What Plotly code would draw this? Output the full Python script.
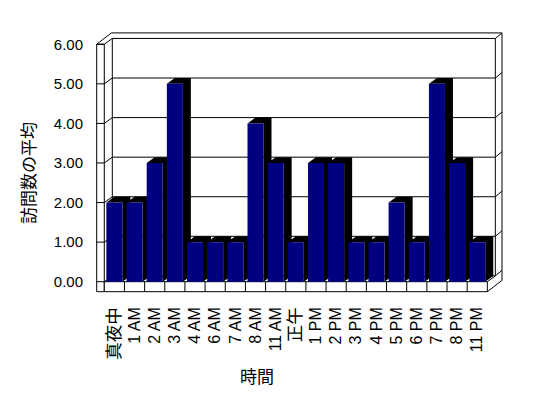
import plotly.graph_objects as go

# ---- data ----
categories = ["真夜中", "1 AM", "2 AM", "3 AM", "4 AM", "6 AM", "7 AM", "8 AM", "11 AM",
              "正午", "1 PM", "2 PM", "3 PM", "4 PM", "5 PM", "6 PM", "7 PM", "8 PM", "11 PM"]
values = [2, 2, 3, 5, 1, 1, 1, 4, 3, 1, 3, 3, 1, 1, 2, 1, 5, 3, 1]
y_ticks = [0, 1, 2, 3, 4, 5, 6]
y_tick_labels = [f"{v:.2f}" for v in y_ticks]
x_title = "時間"
y_title = "訪問数の平均"

# ---- styling / geometry (in axis units) ----
FONT = "Liberation Sans, Arial, Noto Sans CJK JP, sans-serif"
NAVY = "#000080"
W, H = 548, 398
OFF = 8                      # page body margin
PL, PT, PW, PH = 90, 25, 420, 275   # plot area in page pixels
ML, MT = PL - OFF, PT - OFF
MR, MB = W - ML - PW, H - MT - PH
n = len(categories)
HW = 0.397          # half bar width
DX, DY = 0.397, 0.147   # depth offset (x cat units, y value units)
TX, TY = 0.33, 0.14     # wall thickness offset
XW = -0.877             # outer left of left wall
YB = -0.2527            # floor bottom
XL, XR = -0.5, n - 0.5  # floor front edges
YMAX = y_ticks[-1]

xs = list(range(n))

def tick_text(c):
    if any(ord(ch) > 0x3000 for ch in c):
        return f'<span style="font-size:17.5px">{c}</span>'
    return c

# side (top+right) faces, black
sx, sy = [], []
for x, v in zip(xs, values):
    sx += [x - HW, x - HW + DX, x + HW + DX, x + HW + DX, x + HW, x + HW, x - HW, None]
    sy += [v, v + DY, v + DY, DY, 0, v, v, None]
# front faces, navy
fx, fy = [], []
for x, v in zip(xs, values):
    fx += [x - HW, x + HW, x + HW, x - HW, x - HW, None]
    fy += [0, 0, v, v, 0, None]

fig = go.Figure()
fig.add_trace(go.Scatter(x=sx, y=sy, mode="lines", fill="toself", fillcolor="black",
                         line=dict(width=0, color="black"), hoverinfo="skip", showlegend=False))
fig.add_trace(go.Scatter(x=fx, y=fy, mode="lines", fill="toself", fillcolor=NAVY,
                         line=dict(width=0, color=NAVY), hoverinfo="skip", showlegend=False))

shapes = []
def line(x0, y0, x1, y1):
    shapes.append(dict(type="line", xref="x", yref="y", x0=x0, y0=y0, x1=x1, y1=y1,
                       line=dict(color="black", width=1), layer="below"))

# left wall front face
shapes.append(dict(type="rect", xref="x", yref="y", x0=XW, y0=YB, x1=XL, y1=YMAX,
                   fillcolor="white", line=dict(color="black", width=1), layer="below"))
# floor front face
shapes.append(dict(type="rect", xref="x", yref="y", x0=XL, y0=YB, x1=XR, y1=0,
                   fillcolor="white", line=dict(color="black", width=1), layer="below"))
for k in range(1, n):
    line(XL + k, YB, XL + k, 0)
# gridlines
for v in y_ticks:
    line(XW, v, XL, v)
    line(XL, v, XL + DX, v + DY)
    line(XL + DX, v + DY, XR + DX, v + DY)
    line(XR + DX, v + DY, XR + DX + TX, v + DY + TY)
# top of walls
line(XW, YMAX, XW + DX + TX, YMAX + DY + TY)
line(XW + DX + TX, YMAX + DY + TY, XR + DX + TX, YMAX + DY + TY)
# verticals
line(XL + DX, DY, XL + DX, YMAX + DY)
line(XR + DX, DY, XR + DX, YMAX + DY)
line(XR + DX + TX, YB + DY + TY, XR + DX + TX, YMAX + DY + TY)
# floor right end
line(XR, 0, XR + DX, DY)
line(XR, YB, XR + DX + TX, YB + DY + TY)

def px2paper(px, py):
    return (px - PL) / PW, (PT + PH - py) / PH

ax, ay = px2paper(257, 377)
bx, by = px2paper(29, 173)
annotations = [
    dict(text=x_title, x=ax, y=ay, xref="paper", yref="paper", showarrow=False,
         xanchor="center", yanchor="middle",
         font=dict(family=FONT, size=17, color="black")),
    dict(text=y_title, x=bx, y=by, xref="paper", yref="paper", showarrow=False,
         xanchor="center", yanchor="middle",
         textangle=-90, font=dict(family=FONT, size=17, color="black")),
]

fig.update_layout(
    width=W, height=H, margin=dict(l=ML, r=MR, t=MT, b=MB),
    paper_bgcolor="white", plot_bgcolor="white",
    shapes=shapes, annotations=annotations, showlegend=False,
    font=dict(family=FONT, size=15, color="black"),
    xaxis=dict(range=[-1.209, 19.624], tickvals=xs, ticktext=[tick_text(c) for c in categories],
               tickangle=-90, showgrid=False, zeroline=False, showline=False, ticks="",
               ticklabelstandoff=3,
               tickfont=dict(family=FONT, size=16, color="black")),
    yaxis=dict(range=[-0.4625, 6.487], tickvals=y_ticks, ticktext=y_tick_labels,
               showgrid=False, zeroline=False, showline=False, ticks="",
               ticklabelstandoff=6,
               tickfont=dict(family=FONT, size=15, color="black")),
)

fig.write_html("out.html")
